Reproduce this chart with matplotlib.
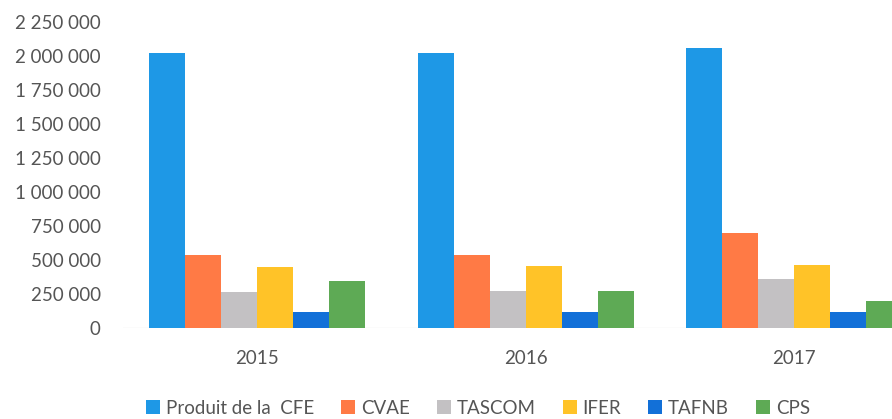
import numpy as np
import matplotlib
matplotlib.use("Agg")
import matplotlib.pyplot as plt
from matplotlib.ticker import FuncFormatter

years = ["2015", "2016", "2017"]
series = ["Produit de la  CFE", "CVAE", "TASCOM", "IFER", "TAFNB", "CPS"]
cfe = [2020000, 2020000, 2057000]
cvae = [540000, 535000, 696000]
tascom = [262000, 275000, 360000]
ifer = [452000, 458000, 463000]
tafnb = [120000, 120000, 115000]
cps = [342000, 275000, 200000]
colors = ["#1E98E6", "#FF7A45", "#C3C1C3", "#FFC328", "#1270D8", "#5EAA55"]

plt.rcParams['font.family'] = ['Lato', 'DejaVu Sans']

fig = plt.figure(figsize=(8.92, 4.19), dpi=100)
W, H = 892, 419
# axes box in pixels: left 123, right 892, top 22, bottom 328
ax = fig.add_axes([123 / W, (H - 328) / H, (892 - 123) / W, (328 - 22) / H])

x = np.arange(len(years))
bw = 0.134
values = [cfe, cvae, tascom, ifer, tafnb, cps]
for i, (name, vals) in enumerate(zip(series, values)):
    off = (i - 2.5) * bw
    ax.bar(x + off, vals, width=bw, color=colors[i], label=name, zorder=2)

ax.set_xlim(-0.5, 2 + (892 - 794) / 268.5)
ax.set_ylim(0, 2250000)
ax.set_yticks(np.arange(0, 2250001, 250000))
ax.yaxis.set_major_formatter(FuncFormatter(lambda v, p: f"{int(v):,}".replace(",", " ")))
ax.set_xticks(x)
ax.set_xticklabels(years)

for s in ax.spines.values():
    s.set_visible(False)
ax.axhline(0, color="#EBEBEB", lw=1, zorder=1)
ax.tick_params(axis="both", length=0, labelsize=13.5, colors="#555555")
ax.tick_params(axis="y", pad=16)
ax.tick_params(axis="x", pad=16)

leg = fig.legend(loc="center", bbox_to_anchor=(478 / W, 1 - 408 / H), ncol=6,
                 frameon=False, fontsize=13.5, handlelength=0.75, handleheight=0.75,
                 handletextpad=0.3, columnspacing=1.45)
for t in leg.get_texts():
    t.set_color("#555555")

fig.savefig("out.png", dpi=100)
